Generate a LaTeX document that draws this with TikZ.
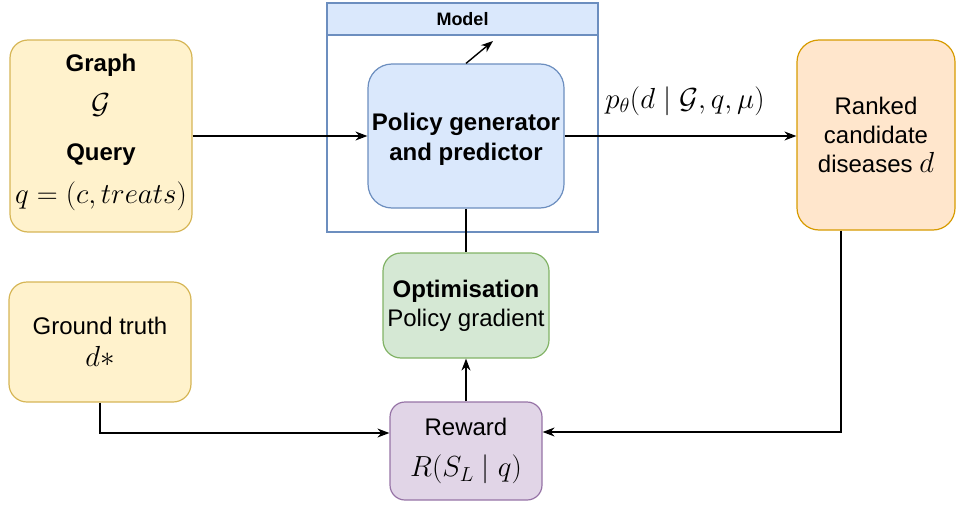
\RequirePackage{fix-cm}
\documentclass[tikz,border=0pt]{standalone}
\usepackage{amsmath}
\usepackage{amssymb}
\usepackage{fontspec}
\setmainfont{Liberation Sans}
\usepackage{tikz}
\usetikzlibrary{arrows.meta}

\definecolor{inputfill}{HTML}{FFF2CC}
\definecolor{inputline}{HTML}{D6B656}
\definecolor{modelfill}{HTML}{DAE8FC}
\definecolor{modelline}{HTML}{6C8EBF}
\definecolor{optfill}{HTML}{D5E8D4}
\definecolor{optline}{HTML}{82B366}
\definecolor{rewardfill}{HTML}{E1D5E7}
\definecolor{rewardline}{HTML}{9673A6}
\definecolor{outfill}{HTML}{FFE6CC}
\definecolor{outline}{HTML}{D79B00}

\newcommand{\mth}[1]{{\fontsize{29}{29}\selectfont$#1$}}

\begin{document}
\begin{tikzpicture}[x=1pt,y=-1pt,line width=1.4pt,>={Stealth[length=12pt,width=9pt]},
  box/.style={draw,line width=1.2pt,rounded corners=18pt,align=center,inner sep=0pt,font={\fontsize{24}{29}\selectfont}},
  frame/.style={draw=modelline,line width=1.2pt,inner sep=0pt}]
\useasboundingbox (0,0) rectangle (956,506);

\node (graph) at (101,136) [box,fill=inputfill,draw=inputline,minimum width=182pt,minimum height=192pt]
  {\textbf{Graph}\\[12.5pt]\mth{\mathcal{G}}\\[18.5pt]\textbf{Query}\\[13.5pt]\mth{q=(c,treats)}\rule[-14pt]{0pt}{14pt}};
\node (truth) at (100,342) [box,fill=inputfill,draw=inputline,minimum width=182pt,minimum height=120pt]
  {Ground truth\\[3pt]\mth{d*}};

\node (model) at (462.5,117.5) [frame,fill=white,minimum width=271pt,minimum height=229pt] {};
\node (header) at (462.5,19) [frame,fill=modelfill,minimum width=271pt,minimum height=32pt,font={\fontsize{18}{20}\selectfont\bfseries}] {Model};

\node (policy) at (466,136) [box,rounded corners=24pt,fill=modelfill,draw=modelline,minimum width=196pt,minimum height=144pt]
  {\rule{0pt}{23pt}\textbf{Policy generator}\\[1pt]\textbf{and predictor}};
\node (opt) at (466,305.5) [box,fill=optfill,draw=optline,minimum width=166pt,minimum height=105pt]
  {\textbf{Optimisation}\\Policy gradient};
\node (reward) at (466,451) [box,rounded corners=15pt,fill=rewardfill,draw=rewardline,minimum width=152pt,minimum height=98pt]
  {Reward\\[12.5pt]\mth{R(S_L \mid q)}};
\node (ranked) at (876,135) [box,rounded corners=22pt,fill=outfill,draw=outline,minimum width=158pt,minimum height=190pt]
  {Ranked\\candidate\\diseases \mth{d}};

\node (prob) at (685,101) {\mth{p_\theta(d \mid \mathcal{G}, q, \mu)}};
\coordinate (out) at (493,41);

\draw [->] (graph) -- (policy);
\draw [->] (policy.east) -- (policy.east -| ranked.west);
\draw [->] (policy.north) -- (out);

\draw (policy.south) -- (opt.north);
\draw [->] (reward) -- (opt);

\draw [->] (truth.south) |- ([yshift=18pt]reward.west);
\draw [->] (ranked.south -| 841,0) |- ([yshift=19pt]reward.east);

\end{tikzpicture}
\end{document}
